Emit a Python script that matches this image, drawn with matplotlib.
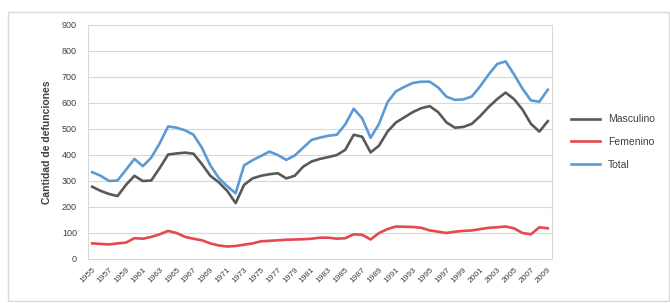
import matplotlib.pyplot as plt
from matplotlib.patches import Rectangle

plt.rcParams['font.family'] = ['Liberation Sans', 'DejaVu Sans']

# años (uno por punto), se rotula uno de cada dos
anios = list(range(1955, 2010))

masculino = [278, 262, 250, 242, 285, 320, 300, 302, 350, 402,
             406, 409, 405, 365, 320, 295, 262, 215, 285, 310,
             320, 326, 330, 310, 320, 355, 375, 385, 392, 400,
             420, 478, 470, 410, 436, 490, 525, 545, 565, 580,
             588, 565, 525, 505, 508, 520, 550, 585, 615, 640,
             615, 575, 520, 490, 530]

femenino = [60, 58, 56, 60, 63, 80, 78, 85, 95, 108,
            100, 85, 78, 72, 60, 52, 48, 50, 55, 60,
            68, 70, 72, 74, 75, 76, 78, 82, 82, 78,
            80, 95, 93, 75, 100, 115, 125, 124, 123, 120,
            110, 105, 100, 105, 108, 110, 115, 120, 122, 125,
            118, 100, 95, 122, 118]

total = [334, 320, 300, 302, 343, 385, 357, 390, 445, 510,
         505, 495, 478, 428, 360, 312, 280, 253, 360, 380,
         396, 413, 400, 381, 398, 428, 458, 467, 474, 478,
         518, 578, 541, 466, 520, 603, 645, 662, 677, 682,
         682, 660, 624, 612, 614, 625, 665, 710, 750, 760,
         710, 655, 610, 605, 651]

fig = plt.figure(figsize=(6.7, 3.03), dpi=100)
ax = fig.add_axes([88 / 670, 1 - 259 / 303, 464 / 670, 234 / 303])

x = list(range(len(anios)))
ax.plot(x, masculino, color='#595959', lw=1.9, label='Masculino')
ax.plot(x, femenino, color='#E5484D', lw=1.9, label='Femenino')
ax.plot(x, total, color='#5B9BD5', lw=1.9, label='Total')

ax.set_xlim(-0.5, len(anios) - 0.5)
ax.set_ylim(0, 900)
ax.set_yticks(range(0, 901, 100))
ax.tick_params(axis='y', labelsize=6.5, length=0, pad=8, colors='#404040')
ax.set_xticks(x[::2])
ax.set_xticklabels([str(a) for a in anios[::2]], rotation=45, ha='right',
                   rotation_mode='anchor', fontsize=6, color='#404040')
ax.tick_params(axis='x', length=0, pad=5)
ax.grid(axis='y', color='#D9D9D9', lw=0.8)
ax.set_axisbelow(True)
for s in ax.spines.values():
    s.set_color('#D9D9D9')
    s.set_linewidth(0.8)

ax.set_ylabel('Cantidad de defunciones', fontsize=7.5, fontweight='bold',
              color='#404040', labelpad=7)

leg = ax.legend(loc='center left', bbox_to_anchor=(1.02, 0.5), frameon=False,
                fontsize=7.5, handlelength=2.8, labelspacing=1.2, labelcolor='#404040')

# borde del gráfico
fig.patches.append(Rectangle((8 / 670, 2 / 303), 661 / 670, 289 / 303,
                             transform=fig.transFigure, fill=False,
                             edgecolor='#D9D9D9', lw=1))

fig.savefig('out.png', dpi=100)
